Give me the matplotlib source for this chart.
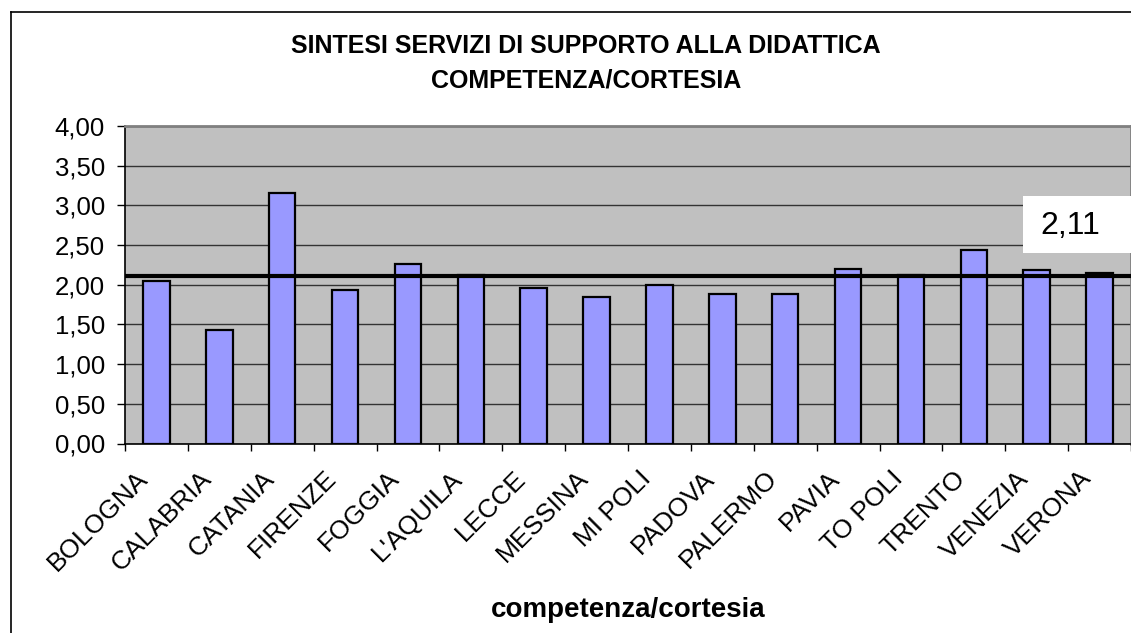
import matplotlib
matplotlib.use("Agg")
import matplotlib.pyplot as plt
from matplotlib.ticker import FuncFormatter, MultipleLocator, FixedLocator
from matplotlib.lines import Line2D
from matplotlib.patches import Rectangle
from matplotlib.transforms import ScaledTranslation
import numpy as np

plt.rcParams["font.family"] = ["Liberation Sans", "DejaVu Sans"]

# data
sedi = ["BOLOGNA", "CALABRIA", "CATANIA", "FIRENZE", "FOGGIA", "L'AQUILA",
        "LECCE", "MESSINA", "MI POLI", "PADOVA", "PALERMO", "PAVIA",
        "TO POLI", "TRENTO", "VENEZIA", "VERONA"]
valori = [2.05, 1.43, 3.16, 1.94, 2.26, 2.12, 1.96, 1.85,
          2.00, 1.88, 1.88, 2.20, 2.12, 2.44, 2.18, 2.15]
media = 2.11
media_label = "2,11"
titolo = ["SINTESI SERVIZI DI SUPPORTO ALLA DIDATTICA", "COMPETENZA/CORTESIA"]
asse_x = "competenza/cortesia"

W, H = 1131, 633
fig = plt.figure(figsize=(W / 100, H / 100), dpi=100)
fig.patch.set_facecolor("white")

ax = fig.add_axes([125 / W, 1 - 443.5 / H, 1006 / W, 317.5 / H])
ax.set_facecolor("#C0C0C0")

x = np.arange(len(sedi))
ax.bar(x, valori, width=0.42, color="#9999FF", edgecolor="black",
       linewidth=1.6, zorder=3)
ax.axhline(media, color="black", linewidth=3.0, zorder=4)

ax.set_xlim(-0.5, len(sedi) - 0.5)
ax.set_ylim(0, 4)
ax.yaxis.set_major_locator(MultipleLocator(0.5))
ax.yaxis.set_major_formatter(FuncFormatter(lambda v, p: f"{v:.2f}".replace(".", ",")))
ax.grid(axis="y", color="#333333", linewidth=1.0, zorder=1)
ax.set_axisbelow(True)

ax.xaxis.set_major_locator(FixedLocator(x))
ax.set_xticklabels(sedi, rotation=45, ha="right", va="center",
                   rotation_mode="anchor", fontsize=19)
ax.tick_params(axis="x", which="major", length=0, pad=22.5)
shift = ScaledTranslation(-12 / 100, 0, fig.dpi_scale_trans)
for lab in ax.get_xticklabels():
    lab.set_transform(lab.get_transform() + shift)
ax.xaxis.set_minor_locator(FixedLocator(np.arange(-0.5, len(sedi), 1.0)))
ax.tick_params(axis="x", which="minor", length=5, width=1, color="black")
ax.tick_params(axis="y", length=6, width=1, color="black", labelsize=18.5, pad=8.4)

for s in ["left", "bottom"]:
    ax.spines[s].set_color("black")
    ax.spines[s].set_linewidth(1.2)
for s in ["top", "right"]:
    ax.spines[s].set_color("#808080")
    ax.spines[s].set_linewidth(2)

# box with the average value
fig.add_artist(Rectangle((1023 / W, 1 - 253 / H), 108 / W, 57 / H,
                         transform=fig.transFigure, facecolor="white",
                         edgecolor="none", zorder=5))
fig.text(1070 / W, 1 - 225.5 / H, media_label, fontsize=23,
         ha="center", va="center", zorder=6)

fig.text(586 / W, 1 - 46 / H, titolo[0], ha="center", va="center",
         fontsize=18, fontweight="bold")
fig.text(586 / W, 1 - 80 / H, titolo[1], ha="center", va="center",
         fontsize=18, fontweight="bold")
fig.text(628 / W, 1 - 610 / H, asse_x, ha="center", va="center",
         fontsize=20, fontweight="bold")

# outer chart frame (cropped at right and bottom)
fig.add_artist(Line2D([11 / W, 1.0], [1 - 12 / H, 1 - 12 / H], color="black", linewidth=1.2))
fig.add_artist(Line2D([11 / W, 11 / W], [0.0, 1 - 12 / H], color="black", linewidth=1.2))

fig.savefig("out.png", dpi=100)
